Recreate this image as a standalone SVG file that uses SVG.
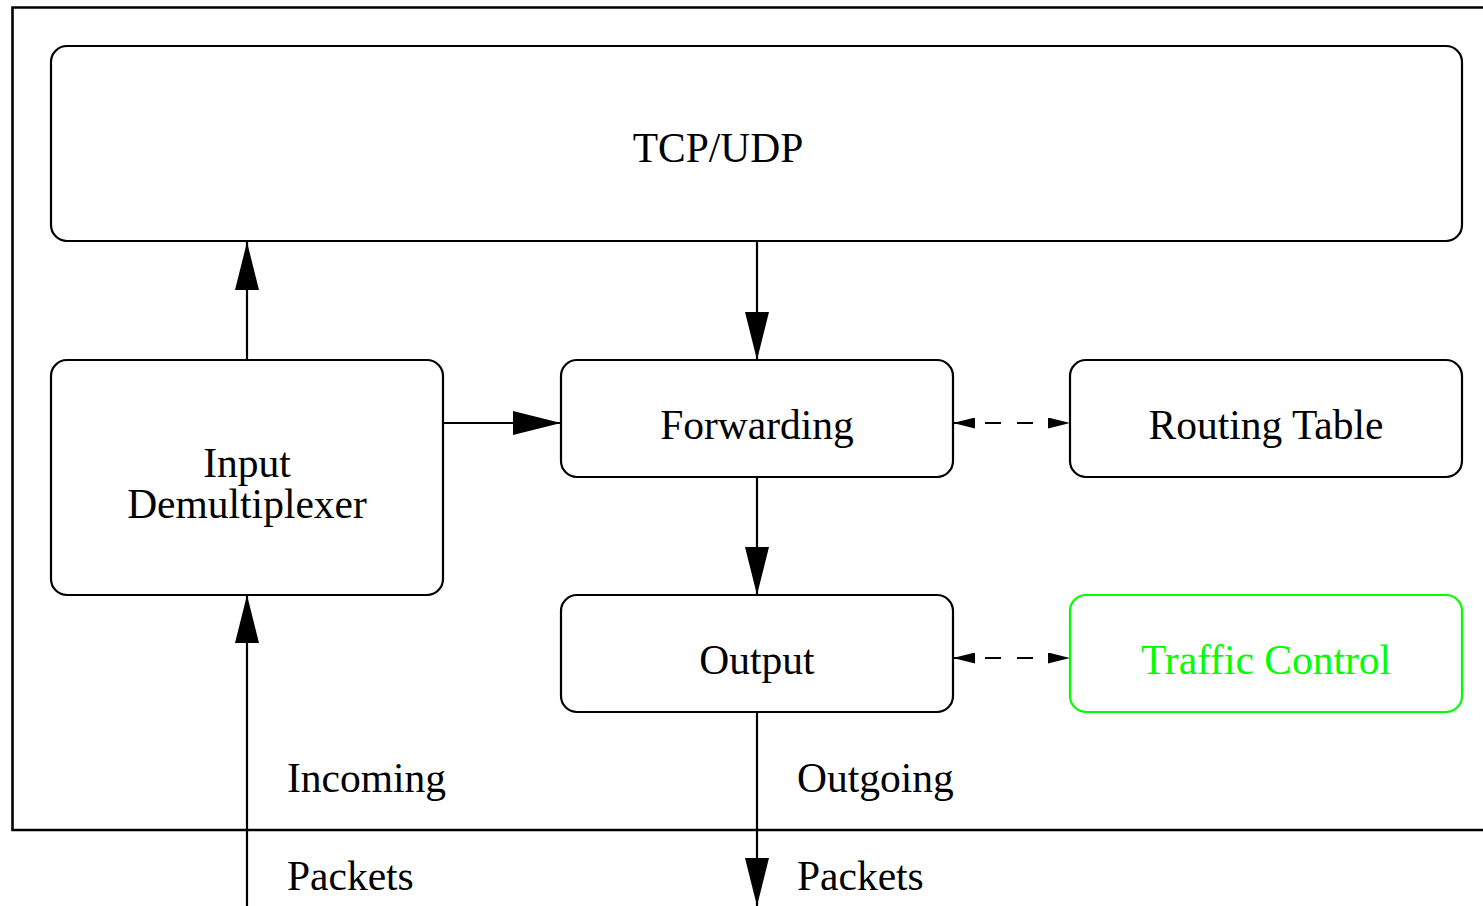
<svg xmlns="http://www.w3.org/2000/svg" width="1483" height="906" viewBox="0 0 1483 906">
  <style>
    .box { fill: none; stroke: #000; stroke-width: 2.2; }
    .green { stroke: #00ff00; }
    .label { font-family: "Liberation Serif", "Times New Roman", serif; font-size: 41.5px; fill: #000; }
    .mid { text-anchor: middle; }
    .glabel { fill: #00ff00; }
    .wire { fill: none; stroke: #000; stroke-width: 2.2; }
    .dash { stroke-dasharray: 16 16; }
  </style>
  <defs>
    <marker id="head" viewBox="0 0 48 24" refX="48" refY="12" markerWidth="48" markerHeight="24" markerUnits="userSpaceOnUse" orient="auto">
      <path d="M0,0 L48,12 L0,24 Z" fill="#000"/>
    </marker>
    <marker id="small" viewBox="0 0 22 11" refX="22" refY="5.5" markerWidth="22" markerHeight="11" markerUnits="userSpaceOnUse" orient="auto-start-reverse">
      <path d="M0,0 L22,5.5 L0,11 Z" fill="#000"/>
    </marker>
  </defs>

  <rect width="1483" height="906" fill="#fff"/>

  <!-- outer frame (right edge runs past the canvas) -->
  <path d="M1500,7.5 L12.5,7.5 L12.5,830 L1500,830" fill="none" stroke="#000" stroke-width="2.6"/>

  <g id="tcp-udp">
    <rect class="box" x="51" y="46" width="1411" height="195" rx="16"/>
    <text class="label mid" x="718" y="162">TCP/UDP</text>
  </g>

  <g id="input-demux">
    <rect class="box" x="51" y="360" width="392" height="235" rx="16"/>
    <text class="label mid" x="247" y="477">Input</text>
    <text class="label mid" x="247" y="518">Demultiplexer</text>
  </g>

  <g id="forwarding">
    <rect class="box" x="561" y="360" width="392" height="117" rx="16"/>
    <text class="label mid" x="757" y="439">Forwarding</text>
  </g>

  <g id="routing-table">
    <rect class="box" x="1070" y="360" width="392" height="117" rx="16"/>
    <text class="label mid" x="1266" y="439">Routing Table</text>
  </g>

  <g id="output">
    <rect class="box" x="561" y="595" width="392" height="117" rx="16"/>
    <text class="label mid" x="757" y="674">Output</text>
  </g>

  <g id="traffic-control">
    <rect class="box green" x="1070" y="595" width="392" height="117" rx="16"/>
    <text class="label mid glabel" x="1266" y="674">Traffic Control</text>
  </g>

  <g id="connectors">
    <line class="wire" x1="247" y1="360" x2="247" y2="242" marker-end="url(#head)"/>
    <line class="wire" x1="757" y1="241" x2="757" y2="360" marker-end="url(#head)"/>
    <line class="wire" x1="443" y1="423" x2="561" y2="423" marker-end="url(#head)"/>
    <line class="wire" x1="757" y1="477" x2="757" y2="595" marker-end="url(#head)"/>
    <line class="wire" x1="247" y1="906" x2="247" y2="595" marker-end="url(#head)"/>
    <line class="wire" x1="757" y1="712" x2="757" y2="906" marker-end="url(#head)"/>
    <line class="wire dash" x1="953" y1="423" x2="1070" y2="423" marker-start="url(#small)" marker-end="url(#small)"/>
    <line class="wire dash" x1="953" y1="658" x2="1070" y2="658" marker-start="url(#small)" marker-end="url(#small)"/>
  </g>

  <g id="flow-labels">
    <text class="label" x="287" y="792">Incoming</text>
    <text class="label" x="287" y="890">Packets</text>
    <text class="label" x="797" y="792">Outgoing</text>
    <text class="label" x="797" y="890">Packets</text>
  </g>
</svg>
